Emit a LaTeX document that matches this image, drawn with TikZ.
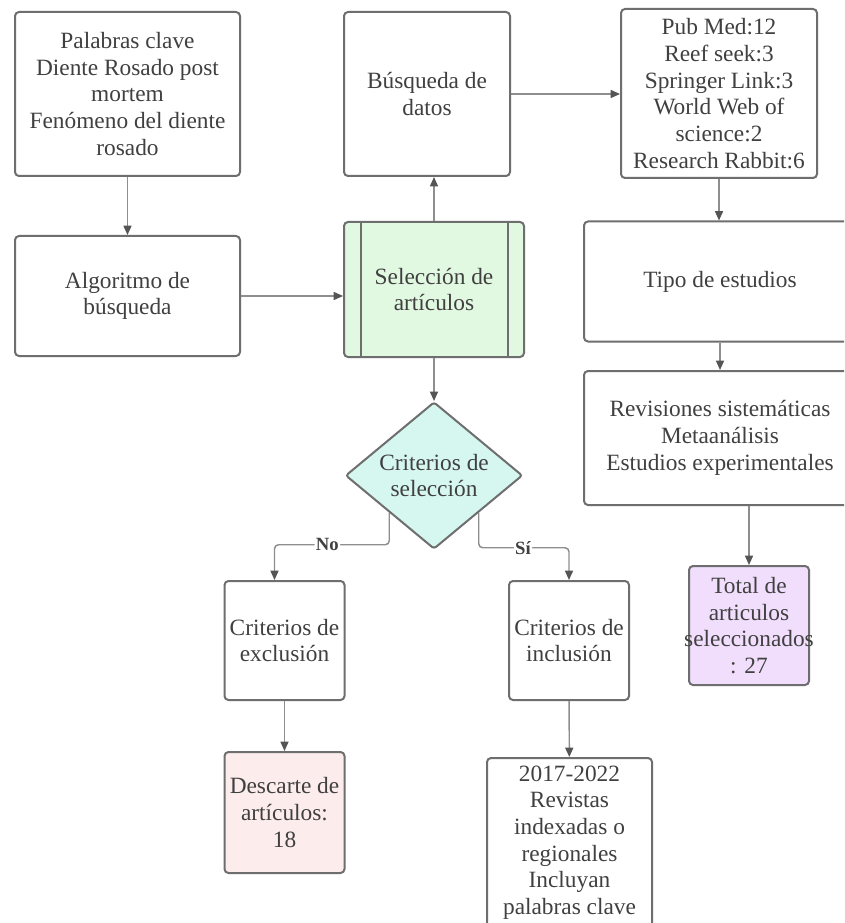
\documentclass[tikz,border=0pt]{standalone}
\usepackage{fontspec}
\setmainfont{Liberation Serif}
\usetikzlibrary{shapes.geometric, arrows.meta}
\definecolor{linegray}{HTML}{6E6E6E}
\definecolor{arrowgray}{HTML}{8E8E8E}
\definecolor{tipgray}{HTML}{555555}
\definecolor{textgray}{HTML}{404040}
\definecolor{selgreen}{HTML}{E1F8E1}
\definecolor{critcyan}{HTML}{D6F6F0}
\definecolor{discpink}{HTML}{FDECEC}
\definecolor{totpurple}{HTML}{F1DEFC}
\tikzstyle{block} = [rectangle, rounded corners=3pt, draw=linegray, line width=1.5pt, fill=white, text=textgray, align=center, inner sep=2pt, font=\fontsize{17.5}{20}\selectfont]
\tikzstyle{decision} = [diamond, aspect=1.2, rounded corners=2pt, draw=linegray, line width=1.5pt, fill=critcyan, text=textgray, align=center, inner sep=0pt, minimum width=132.75pt, minimum height=110.25pt, font=\fontsize{17.5}{20}\selectfont]
\tikzstyle{arrow} = [line width=1.1pt, draw=arrowgray, -{Triangle[length=7pt, width=6pt, color=tipgray]}]
\tikzstyle{answer} = [fill=white, text=textgray, inner sep=1pt, font=\fontsize{14}{16}\selectfont\bfseries]

\begin{document}
\begin{tikzpicture}[x=0.75pt, y=-0.75pt]
        \path [fill=white, use as bounding box] (0,0) rectangle (844,923);
        \clip (0,0) rectangle (844,923);

        % Nodes
        \node [block, minimum width=168.75pt, minimum height=123pt] (kw) at (127.5,94) {Palabras clave\\Diente Rosado post\\mortem\\Fenómeno del diente\\rosado};
        \node [block, minimum width=124.5pt, minimum height=123pt] (busq) at (427,94) {Búsqueda de\\datos};
        \node [block, minimum width=147pt, minimum height=126.75pt] (pub) at (719,93.5) {Pub Med:12\\Reef seek:3\\Springer Link:3\\World Web of\\science:2\\Research Rabbit:6};
        \node [block, minimum width=168.75pt, minimum height=90pt] (algo) at (127.5,296) {Algoritmo de\\búsqueda};
        \node [block, fill=selgreen, minimum width=135pt, minimum height=101.25pt] (sel) at (434,289.5) {Selección de\\artículos};
        \node [block, minimum width=204pt, minimum height=90pt] (tipo) at (720,281.5) {Tipo de estudios};
        \node [block, minimum width=204pt, minimum height=100.5pt] (rev) at (720,438) {Revisiones sistemáticas\\Metaanálisis\\Estudios experimentales};
        \node [decision] (dia) at (434,475.5) {Criterios de\\selección};
        \node [block, minimum width=90pt, minimum height=89.25pt] (excl) at (284.5,640.5) {Criterios de\\exclusión};
        \node [block, minimum width=90pt, minimum height=89.25pt] (incl) at (569,640.5) {Criterios de\\inclusión};
        \node [block, fill=totpurple, minimum width=90pt, minimum height=89.25pt] (total) at (749,625.5) {Total de\\articulos\\\makebox[0pt]{seleccionados}\\: 27};
        \node [block, fill=discpink, minimum width=90pt, minimum height=90.75pt] (desc) at (284.5,812.5) {Descarte de\\artículos:\\18};
        \node [block, minimum width=123.75pt, minimum height=126.75pt] (inclist) at (569.5,842.5) {2017-2022\\Revistas\\indexadas o\\regionales\\Incluyan\\palabras clave};

        % inner bars of the process box
        \draw [linegray, line width=1.5pt] ([shift={(18,0)}]sel.north west) -- ([shift={(18,0)}]sel.south west);
        \draw [linegray, line width=1.5pt] ([shift={(-17,0)}]sel.north east) -- ([shift={(-17,0)}]sel.south east);

        % Arrows
        \draw [arrow] (kw) -- (algo);
        \draw [arrow] (algo.east) -- (algo.east -| sel.west);
        \draw [arrow] (sel.north) -- (sel.north |- busq.south);
        \draw [arrow] (busq.east) -- (busq.east -| pub.west);
        \draw [arrow] (pub.south) -- (pub.south |- tipo.north);
        \draw [arrow] (tipo) -- (rev);
        \draw [arrow] (rev.south -| total.north) -- (total.north);
        \draw [arrow] (sel) -- (dia);
        \draw [arrow, rounded corners=3pt] (dia.south west) -- ++(0,32) -| ([shift={(-10,0)}]excl.north) node[answer, pos=0.27] {No};
        \draw [arrow, rounded corners=3pt] (dia.south east) -- ++(0,35) -| (incl.north) node[answer, pos=0.245] {Sí};
        \draw [arrow] (excl) -- (desc);
        \draw [arrow] (incl) -- (inclist);
    \end{tikzpicture}
\end{document}
